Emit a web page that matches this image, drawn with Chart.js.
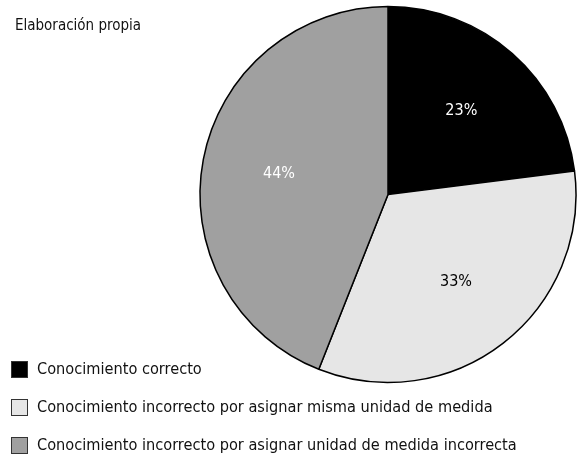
<!DOCTYPE html>
<html>
<head>
<meta charset="utf-8">
<script src="https://cdn.jsdelivr.net/npm/chart.js@4"></script>
<style>
  html, body { margin:0; padding:0; background:#fff; }
  #wrap { position:relative; width:579px; height:462px; overflow:hidden; }
  #c { position:absolute; left:0; top:0; }
  .txt { font-family:"DejaVu Sans Condensed","DejaVu Sans",sans-serif; color:#111; position:absolute; white-space:nowrap; }
  #title { left:15px; top:16px; font-size:15px; }
  .leg { left:11px; font-size:16.2px; line-height:20px; height:20px; display:flex; align-items:center; }
  .box { width:15px; height:15px; border:1px solid #333; margin-right:9px; box-sizing:content-box; }
</style>
</head>
<body>
<div id="wrap">
  <canvas id="c" width="579" height="462"></canvas>
  <div id="title" class="txt">Elaboración propia</div>
  <div id="legend"></div>
</div>
<script>
const categories = [
  "Conocimiento correcto",
  "Conocimiento incorrecto por asignar misma unidad de medida",
  "Conocimiento incorrecto por asignar unidad de medida incorrecta"
];
const values = [23, 33, 44];
const sliceColors = ["#000000", "#e6e6e6", "#a0a0a0"];
const labelColors = ["#ffffff", "#000000", "#ffffff"];

// HTML legend
const legend = document.getElementById('legend');
categories.forEach((cat, i) => {
  const row = document.createElement('div');
  row.className = 'txt leg';
  row.style.top = (359 + i * 38) + 'px';
  const box = document.createElement('span');
  box.className = 'box';
  box.style.background = sliceColors[i];
  row.appendChild(box);
  row.appendChild(document.createTextNode(cat));
  legend.appendChild(row);
});

const pctLabels = {
  id: 'pctLabels',
  afterDatasetsDraw(chart) {
    const ctx = chart.ctx;
    const meta = chart.getDatasetMeta(0);
    ctx.save();
    ctx.font = '16px "DejaVu Sans Condensed", "DejaVu Sans", sans-serif';
    ctx.textAlign = 'center';
    ctx.textBaseline = 'middle';
    meta.data.forEach((arc, i) => {
      const p = arc.getProps(['x','y','startAngle','endAngle','outerRadius'], true);
      const mid = (p.startAngle + p.endAngle) / 2;
      const r = p.outerRadius * 0.59;
      ctx.fillStyle = labelColors[i];
      ctx.fillText(values[i] + '%', p.x + Math.cos(mid) * r, p.y + Math.sin(mid) * r);
    });
    ctx.restore();
  }
};

new Chart(document.getElementById('c'), {
  type: 'pie',
  data: {
    labels: categories,
    datasets: [{
      data: values,
      backgroundColor: sliceColors,
      borderColor: '#000000',
      borderWidth: 1.5,
      hoverOffset: 0,
      radius: 188
    }]
  },
  options: {
    responsive: false,
    animation: false,
    events: [],
    layout: { padding: { left: 200, right: 3, top: 7, bottom: 80 } },
    plugins: { legend: { display: false }, tooltip: { enabled: false }, title: { display: false } }
  },
  plugins: [pctLabels]
});
</script>
</body>
</html>
